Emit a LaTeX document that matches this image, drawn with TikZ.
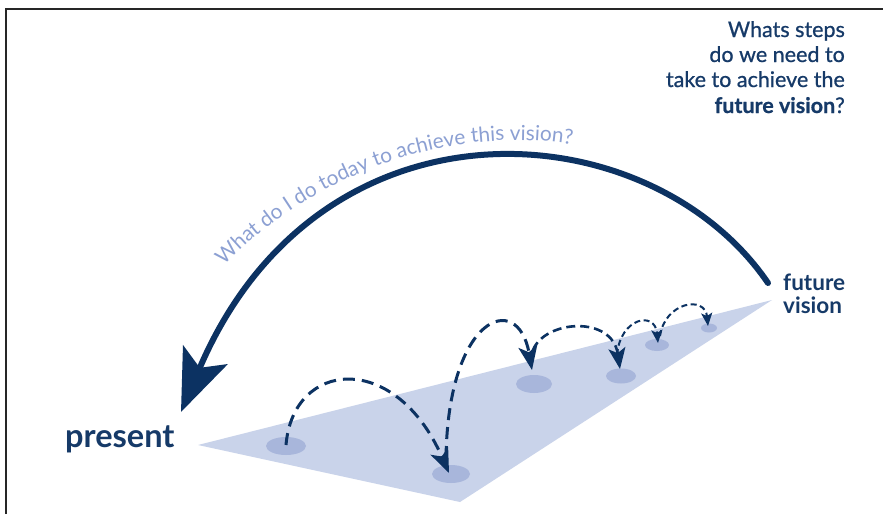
\documentclass[tikz,border=0pt]{standalone}
\usepackage{fontspec}
\setmainfont{Lato}
\newfontfamily\semifont[FakeBold=0.8]{Lato}
\usetikzlibrary{arrows.meta,shapes.geometric,decorations.text}
\definecolor{navy}{RGB}{12,50,98}
\definecolor{txtnavy}{RGB}{22,58,104}
\definecolor{lightblue}{RGB}{140,160,211}
\definecolor{planecol}{RGB}{201,211,234}
\definecolor{spotcol}{RGB}{168,182,219}
\begin{document}
\begin{tikzpicture}[x=1pt,y=-1pt,
  spot/.style={ellipse, fill=spotcol, inner sep=0pt},
  hopbig/.style={navy, line width=3pt, dash pattern=on 12pt off 7pt,
    -{Stealth[length=24pt,width=19pt,inset=6pt]}},
  hopmid/.style={navy, line width=2.6pt, dash pattern=on 9pt off 5pt,
    -{Stealth[length=21pt,width=17pt,inset=5pt]}},
  hopsmall/.style={navy, line width=2pt, dash pattern=on 6pt off 3.5pt,
    -{Stealth[length=13pt,width=11pt,inset=3pt]}},
  qtext/.style={txtnavy, font=\semifont\fontsize{21.5}{25}\selectfont, anchor=base east, inner sep=0pt},
  label/.style={txtnavy, inner sep=0pt, anchor=base west}]
\useasboundingbox (0,0) rectangle (883,514);
\fill[white] (0,0) rectangle (883,514);
\draw[line width=2pt, black!85] (6,514) -- (6,8.5) -- (883,8.5);
% plane
\fill[planecol] (198,445) -- (772,300) -- (460,502) -- cycle;
% spots
\node[spot, minimum width=40pt, minimum height=18pt] (s1) at (286,446) {};
\node[spot, minimum width=38pt, minimum height=18pt] (s2) at (451,474) {};
\node[spot, minimum width=36pt, minimum height=18pt] (s3) at (534,384) {};
\node[spot, minimum width=30pt, minimum height=15pt] (s4) at (621,376) {};
\node[spot, minimum width=24pt, minimum height=12pt] (s5) at (657,345) {};
\node[spot, minimum width=16pt, minimum height=9pt] (s6) at (709,328) {};
% hop ends
\coordinate (a0) at (286,445);
\coordinate (a1) at (449,473);
\coordinate (b0) at (446,458);
\coordinate (b1) at (532,370);
\coordinate (c0) at (533,350);
\coordinate (c1) at (620,369);
\coordinate (d0) at (617,355);
\coordinate (d1) at (658,343);
\coordinate (e0) at (660,336);
\coordinate (e1) at (708,326);
\draw[hopbig] (a0) .. controls (293,360) and (395,350) .. (a1);
\draw[hopbig] (b0) .. controls (448,315) and (518,290) .. (b1);
\draw[hopmid] (c0) .. controls (545,320) and (612,315) .. (c1);
\draw[hopsmall] (d0) .. controls (620,318) and (655,310) .. (d1);
\draw[hopsmall] (e0) .. controls (665,302) and (705,295) .. (e1);
% labels
\node[label, font=\bfseries\fontsize{32.5}{32}\selectfont] (present) at (65,447) {present};
\node[label, font=\bfseries\fontsize{22.5}{23}\selectfont] (fut1) at (783,290) {future};
\node[label, font=\bfseries\fontsize{22.5}{23}\selectfont] (fut2) at (783,313) {vision};
% big arc
\coordinate (fv) at (768,283);
\coordinate (pr) at (181,412);
\draw[navy, line width=6pt, line cap=round,
  -{Stealth[length=62pt,width=48pt,inset=14pt]}]
  (fv) .. controls (650,110) and (320,85) .. (pr);
% arc text
\coordinate (t0) at (224,266);
\coordinate (t1) at (580,146);
\path[decorate, decoration={text along path, text color=lightblue,
  text format delimiters={|}{|},
  text={|\fontsize{20.8}{21}\selectfont|What  do I do today to achieve this vision?}}]
  (t0) .. controls (300,185) and (440,120) .. (t1);
% question
\node[qtext] (q1) at (845,37) {Whats steps};
\node[qtext] (q2) at (845,62) {do we need to};
\node[qtext] (q3) at (845,87) {take to achieve the};
\node[qtext] (q4) at (845,113) {\textbf{future vision}?};
\end{tikzpicture}
\end{document}
